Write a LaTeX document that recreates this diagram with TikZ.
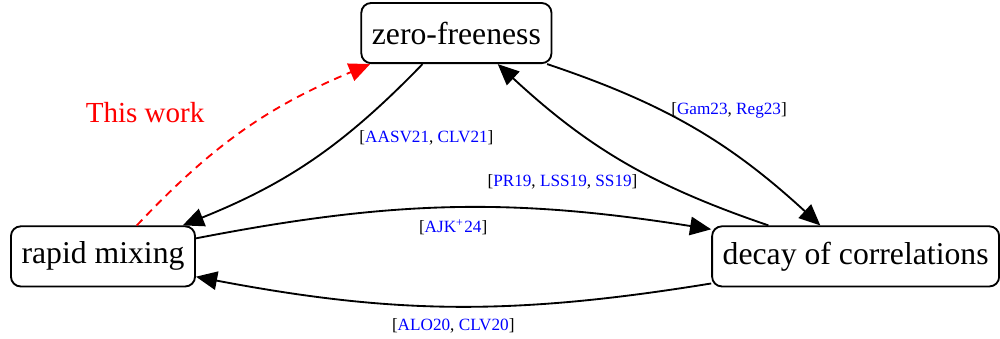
\documentclass[tikz,border=0pt]{standalone}
\usepackage{fontspec}
\setmainfont{Liberation Serif}
\usetikzlibrary{arrows.meta}
\newcommand{\cit}[1]{\textcolor{blue}{#1}}

\begin{document}
\begin{tikzpicture}

\tikzset{block/.style = {shape=rectangle,draw,rounded corners=0.13cm,line width=0.7pt,minimum height=0.8cm,inner xsep=4pt,font=\fontsize{12}{14}\selectfont}}
\tikzset{edge/.style = {line width=0.7pt,-{Triangle[length=8pt,width=7pt]}}}
\tikzset{ref/.style = {font=\fontsize{6.5}{8}\selectfont,inner sep=1pt}}
\useasboundingbox (0,0) rectangle (13.3,4.5);
%blocks
\node[block] (zf) at (6.07,4.06) {zero-freeness};
\node[block] (rm) at (1.37,1.09) {rapid mixing};
\node[block] (dc) at (11.38,1.09) {decay of correlations};
\node[red,font=\fontsize{11}{13}\selectfont] (tw) at (1.93,3.0) {This work};
%edges
\draw [edge] ([xshift=-0.45cm]zf.south) to[bend left=12] node[ref,pos=0.3,anchor=north west] {[\cit{AASV21}, \cit{CLV21}]} ([xshift=1.06cm]rm.north);
\draw [edge] ([xshift=-0.07cm]zf.south east) to[bend left=12] node[ref,pos=0.4,anchor=south west,yshift=-0.11cm] {[\cit{Gam23}, \cit{Reg23}]} ([xshift=-0.47cm]dc.north);
\draw [edge] ([xshift=-1.16cm]dc.north) to[bend left=12] node[ref,pos=0.43,anchor=north east] {[\cit{PR19}, \cit{LSS19}, \cit{SS19}]} ([xshift=0.55cm]zf.south);
\draw [edge] ([yshift=0.24cm]rm.east) to[bend left=10] node[ref,anchor=north,yshift=-0.11cm] {[\cit{AJK\textsuperscript{+}24}]} ([yshift=0.36cm]dc.west);
\draw [edge] ([yshift=-0.36cm]dc.west) to[bend left=10] node[ref,anchor=north,yshift=-0.11cm] {[\cit{ALO20}, \cit{CLV20}]} ([yshift=-0.27cm]rm.east);
\draw [edge,red,dash pattern=on 3pt off 2.2pt] ([xshift=0.45cm]rm.north) to[bend left=12] ([xshift=0.13cm]zf.south west);

\end{tikzpicture}
\end{document}
